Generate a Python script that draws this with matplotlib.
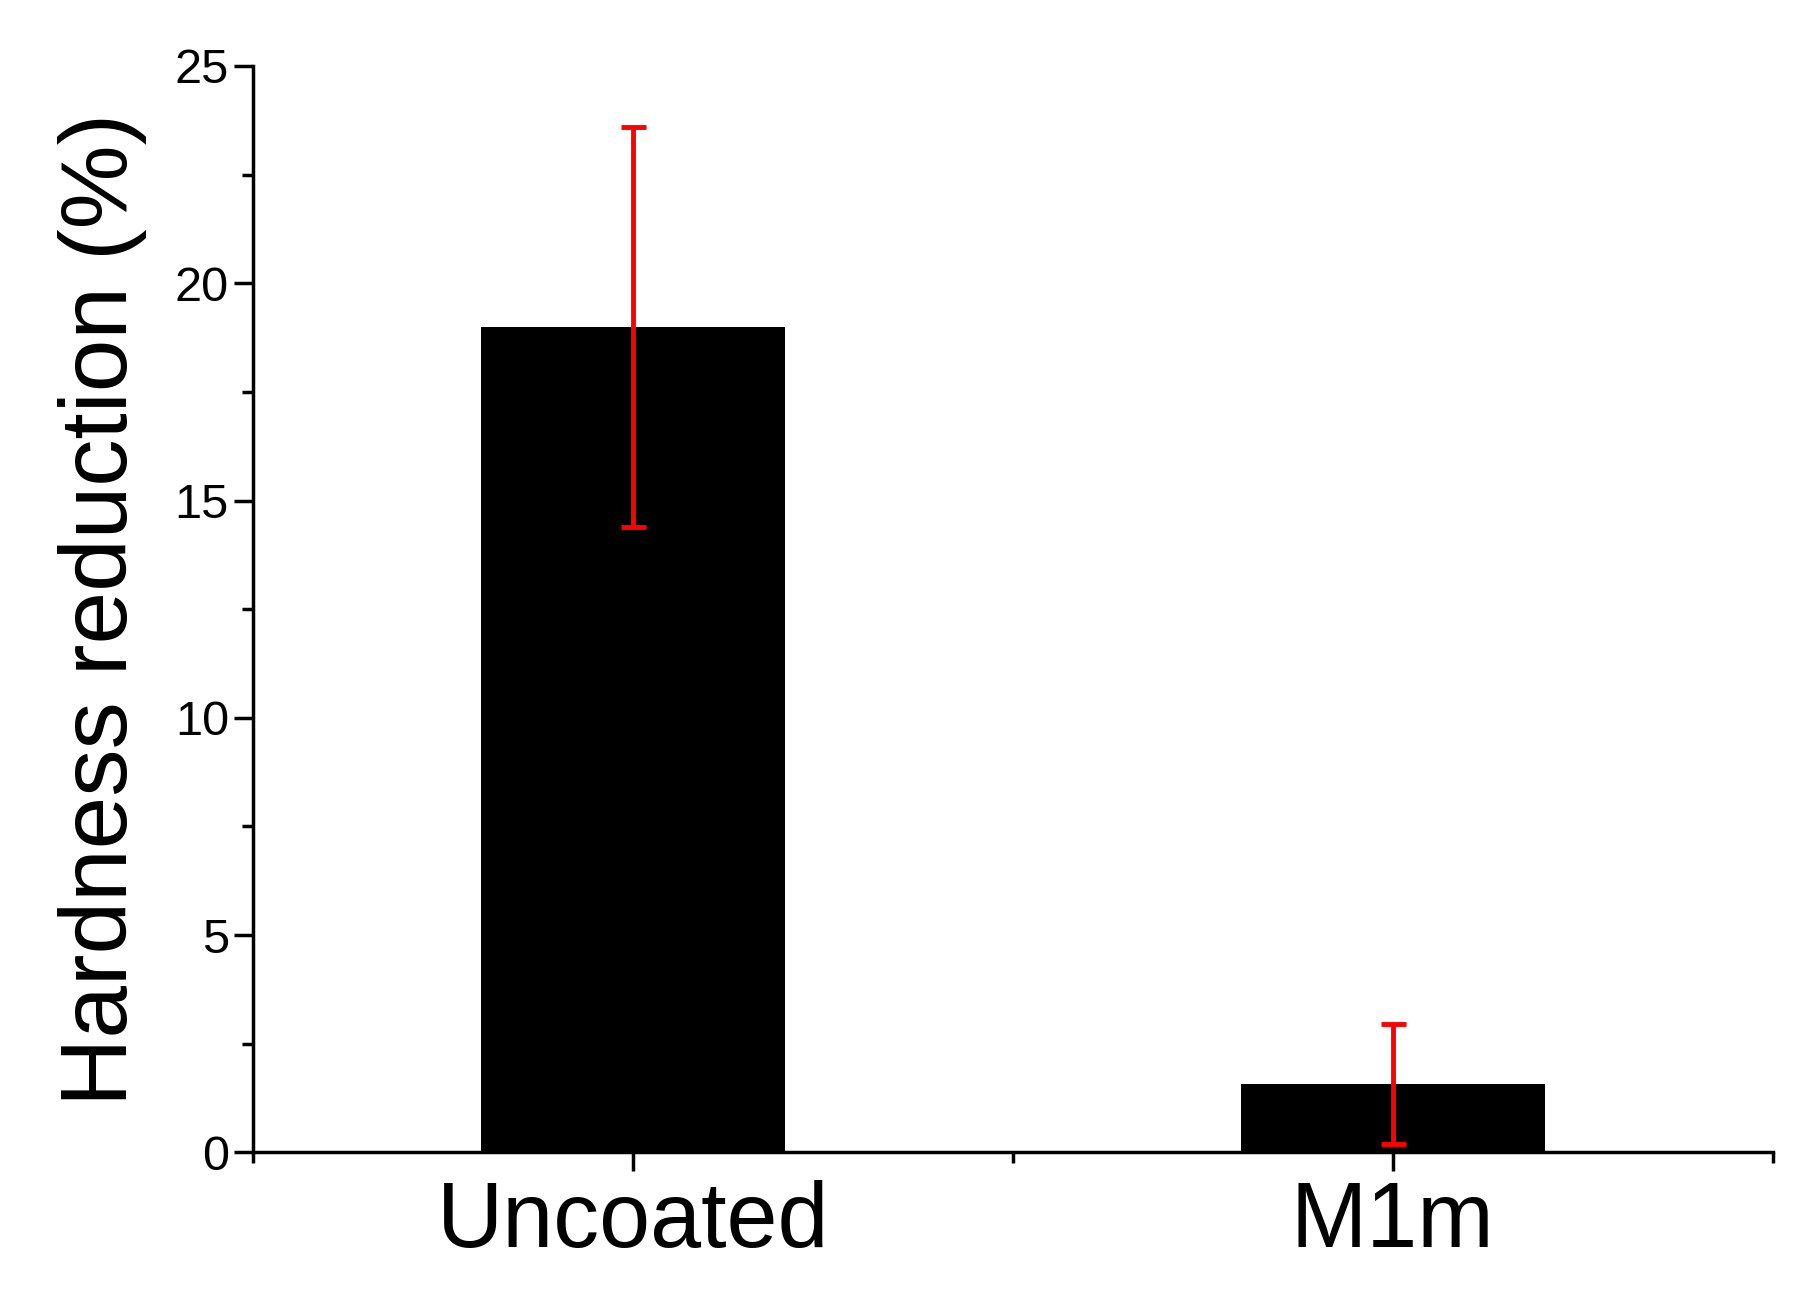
import matplotlib.pyplot as plt
from matplotlib.ticker import MultipleLocator

plt.rcParams['font.family'] = ['Liberation Sans', 'DejaVu Sans']

categories = ["Uncoated", "M1m"]
values = [19.0, 1.58]
errors = [4.6, 1.38]

fig = plt.figure(figsize=(17.96, 12.92), dpi=100)
ax = fig.add_axes([0.141, 0.108, 0.846, 0.841])

x = [1, 2]
ax.bar(x, values, width=0.4, color='black')
ax.errorbar(x, values, yerr=errors, fmt='none', ecolor='red',
            elinewidth=3.5, capsize=9, capthick=3.5)

ax.set_xlim(0.5, 2.5)
ax.set_ylim(0, 25)
ax.set_xticks(x)
ax.set_xticklabels(categories, fontsize=66)
ax.xaxis.set_minor_locator(MultipleLocator(0.5))
ax.yaxis.set_major_locator(MultipleLocator(5))
ax.yaxis.set_minor_locator(MultipleLocator(2.5))
ax.tick_params(axis='y', labelsize=35, width=2.5, length=14, direction='out')
ax.tick_params(axis='x', width=2.5, length=14, direction='out', pad=6)
ax.tick_params(which='minor', width=2.5, length=8, direction='out')
ax.set_ylabel('Hardness reduction (%)', fontsize=68, labelpad=20)

for s in ['top', 'right']:
    ax.spines[s].set_visible(False)
for s in ['left', 'bottom']:
    ax.spines[s].set_linewidth(2.5)

fig.savefig('out.png', dpi=100)
